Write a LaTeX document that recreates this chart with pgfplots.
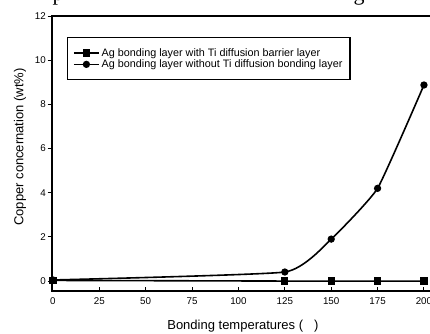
\documentclass[border=0pt]{standalone}
\usepackage{fontspec}
\setmainfont{Liberation Sans}
\newfontfamily\seriffont{Liberation Serif}
\usepackage{pgfplots}
\pgfplotsset{compat=1.18}
\begin{document}
\begin{tikzpicture}[x=1pt,y=1pt]
\begin{axis}[
  at={(52pt,-291pt)}, anchor=south west,
  scale only axis, width=390.5pt, height=274.9pt,
  xmin=-0.5, xmax=210, ymin=-0.45, ymax=12,
  clip=false,
  axis line style={line width=1.3pt},
  xtick={0,25,...,200}, ytick={0,2,...,12},
  xtick pos=bottom, ytick pos=left,
  xtick align=inside, ytick align=outside,
  major tick length=4.5pt,
  every tick/.style={black, line width=1pt},
  /pgf/number format/assume math mode=true,
  ticklabel style={font=\fontsize{9.8}{11}\selectfont},
  xticklabel style={yshift=-3pt},
  yticklabel style={inner sep=1.5pt},
  xlabel={Bonding temperatures (\hspace{0.85em})},
  ylabel={Copper concernation (wt\%)},
  label style={font=\fontsize{13}{15}\selectfont},
  xlabel style={at={(axis description cs:0.489,-0.128)}, anchor=center},
  ylabel style={at={(axis description cs:-0.082,0.524)}, anchor=center, rotate=0},
  legend style={at={(axis description cs:0.0384,0.923)}, anchor=north west,
    draw=black, line width=1.2pt, inner xsep=5.5pt, inner ysep=8.5pt,
    font=\fontsize{10.8}{12}\selectfont, row sep=-2pt,
    legend cell align=left},
  legend image code/.code={%
    \draw[mark repeat=2,mark phase=2] plot coordinates {(0pt,0pt)(12.5pt,0pt)(25pt,0pt)};},
]
\addplot[black, line width=1.6pt, mark=square*, mark size=2.8pt, mark options={solid}]
  coordinates {(0,0.03) (125,0.0) (150,0.0) (175,0.0) (200,0.0)};
\addlegendentry{Ag bonding layer with Ti diffusion barrier layer}
\addplot[black, line width=1.6pt, mark=*, mark size=2.8pt, smooth, tension=0.25]
  coordinates {(0,0.05) (125,0.41) (150,1.9) (175,4.2) (200,8.88)};
\addlegendentry{Ag bonding layer without Ti diffusion bonding layer}
\end{axis}
\node[font=\seriffont\fontsize{22}{22}\selectfont, anchor=base, inner sep=0pt] at (58pt,-0.5pt) {p};
\node[font=\seriffont\fontsize{22}{22}\selectfont, anchor=base, inner sep=0pt] at (359pt,-0.5pt) {g};
\pgfresetboundingbox
\path[use as bounding box] (0pt,0pt) rectangle (430pt,-333pt);
\end{tikzpicture}
\end{document}
